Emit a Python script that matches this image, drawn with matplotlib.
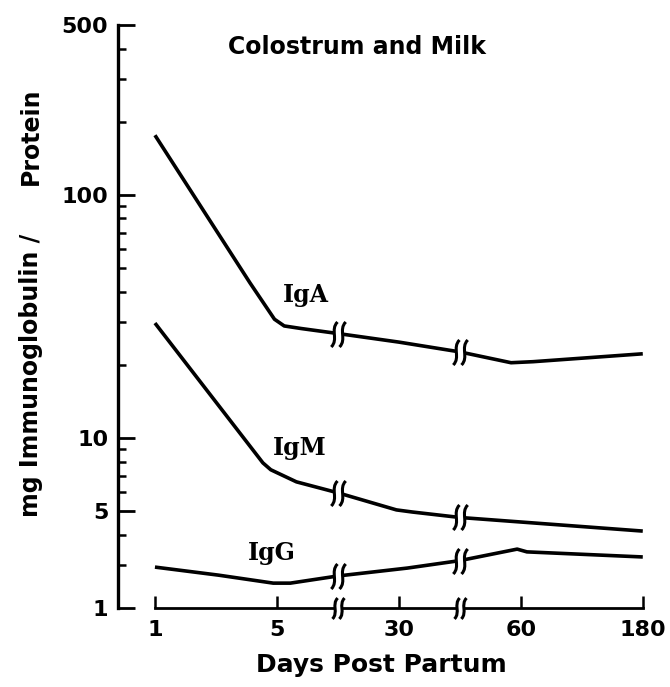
import numpy as np
import matplotlib
matplotlib.use("Agg")
import matplotlib.pyplot as plt
from matplotlib.path import Path
from matplotlib.ticker import FixedLocator, FixedFormatter, NullFormatter

# x axis is drawn as evenly spaced stations, broken between 5-30 and 30-60 days
day_labels = ['1', '5', '30', '60', '180']
day_pos = [0, 1, 2, 3, 4]
breaks = [1.5, 2.5]

# curves, x in axis stations, y in mg immunoglobulin / protein
iga_x = [0, 0.78, 0.98, 1.06, 1.2, 1.5, 2.0, 2.5, 2.92, 3.1, 4.0]
iga_y = [176, 43.4, 30.8, 28.9, 28.2, 26.9, 24.8, 22.6, 20.4, 20.6, 22.2]

igm_x = [0, 0.885, 0.95, 1.16, 1.5, 1.98, 2.11, 2.5, 4.0]
igm_y = [29.7, 7.9, 7.4, 6.6, 5.95, 5.06, 4.96, 4.71, 4.14]

igg_x = [0, 0.52, 0.97, 1.11, 1.5, 2.07, 2.5, 2.97, 3.05, 4.0]
igg_y = [2.85, 2.32, 1.89, 1.89, 2.27, 2.78, 3.13, 3.49, 3.40, 3.24]

y_ticks = [1, 5, 10, 100, 500]
y_minor = [3, 4, 6, 7, 8, 9, 20, 30, 40, 50, 60, 70, 80, 90, 200, 300, 400]

# log scale, squeezed below 3 like the original drawing
K = np.log10(3)
C = 0.37


def fwd(v):
    lv = np.log10(np.maximum(np.asarray(v, dtype=float), 1e-6))
    return np.where(lv >= K, lv, K - (K - lv) * C)


def inv(p):
    p = np.asarray(p, dtype=float)
    with np.errstate(over='ignore', under='ignore'):
        return np.where(p >= K, 10.0 ** np.minimum(p, 300),
                        10.0 ** np.maximum(K - (K - p) / C, -300))


def break_marker():
    verts, codes = [], []
    for dx in (-0.33, 0.33):
        verts += [(dx - 0.25, -1), (dx + 0.35, -0.4), (dx - 0.35, 0.4), (dx + 0.25, 1)]
        codes += [Path.MOVETO, Path.CURVE4, Path.CURVE4, Path.CURVE4]
    return Path(verts, codes)


def gap_marker():
    verts = [(-0.33, -1), (0.33, -1), (0.33, 1), (-0.33, 1), (-0.33, -1)]
    codes = [Path.MOVETO, Path.LINETO, Path.LINETO, Path.LINETO, Path.CLOSEPOLY]
    return Path(verts, codes)


fig = plt.figure(figsize=(6.7, 6.87), dpi=100)
ax = fig.add_axes([118 / 670, 79 / 687, 526 / 670, 583 / 687])
ax.set_yscale('function', functions=(fwd, inv))
ax.set_ylim(1, 500)
ax.set_xlim(-0.303, 4.01)

for xs, ys in [(iga_x, iga_y), (igm_x, igm_y), (igg_x, igg_y)]:
    ax.plot(xs, ys, color='black', lw=2.6, solid_capstyle='butt', zorder=2)
    bx = [x for x in xs if x in breaks]
    by = [y for x, y in zip(xs, ys) if x in breaks]
    ax.plot(bx, by, ls='none', marker=gap_marker(), ms=18, mfc='white', mec='none', zorder=3)
    ax.plot(bx, by, ls='none', marker=break_marker(), ms=18, mfc='none', mec='black',
            mew=2.2, zorder=4)

# breaks on the x axis
ax.plot(breaks, [1] * len(breaks), ls='none', marker=gap_marker(), ms=15, mfc='white',
        mec='none', zorder=5, clip_on=False)
ax.plot(breaks, [1] * len(breaks), ls='none', marker=break_marker(), ms=15, mfc='none',
        mec='black', mew=2.2, zorder=6, clip_on=False)

ax.spines['top'].set_visible(False)
ax.spines['right'].set_visible(False)
ax.spines['left'].set_linewidth(2.4)
ax.spines['bottom'].set_linewidth(2.0)
ax.spines['bottom'].set_bounds(0, 4)

ax.set_xticks(day_pos)
ax.set_xticklabels(day_labels)
ax.yaxis.set_major_locator(FixedLocator(y_ticks))
ax.yaxis.set_major_formatter(FixedFormatter([str(t) for t in y_ticks]))
ax.yaxis.set_minor_locator(FixedLocator(y_minor))
ax.yaxis.set_minor_formatter(NullFormatter())

ax.tick_params(axis='x', direction='in', length=9, width=1.8, pad=9, labelsize=16)
ax.tick_params(axis='y', which='major', direction='in', length=12, width=2.0, pad=7,
               labelsize=16)
ax.tick_params(axis='y', which='minor', direction='in', length=6, width=1.8)
for lab in ax.get_xticklabels() + ax.get_yticklabels():
    lab.set_fontweight('bold')

ax.text(1.24, 38.7, 'IgA', family='DejaVu Serif', fontweight='bold', fontsize=17,
        ha='center', va='center')
ax.text(1.19, 9.1, 'IgM', family='DejaVu Serif', fontweight='bold', fontsize=17,
        ha='center', va='center')
ax.text(0.96, 3.36, 'IgG', family='DejaVu Serif', fontweight='bold', fontsize=17,
        ha='center', va='center')

fig.text(357 / 670, 1 - 47 / 687, 'Colostrum and Milk', fontsize=17, fontweight='bold',
         ha='center', va='center')
fig.text(381 / 670, 1 - 665 / 687, 'Days Post Partum', fontsize=18, fontweight='bold',
         ha='center', va='center')
fig.text(31 / 670, 1 - 375 / 687, 'mg Immunoglobulin /', fontsize=17, fontweight='bold',
         rotation=90, ha='center', va='center')
fig.text(31 / 670, 1 - 136 / 687, 'Protein', fontsize=17, fontweight='bold',
         rotation=90, ha='center', va='center')

fig.savefig('out.png', dpi=100)
